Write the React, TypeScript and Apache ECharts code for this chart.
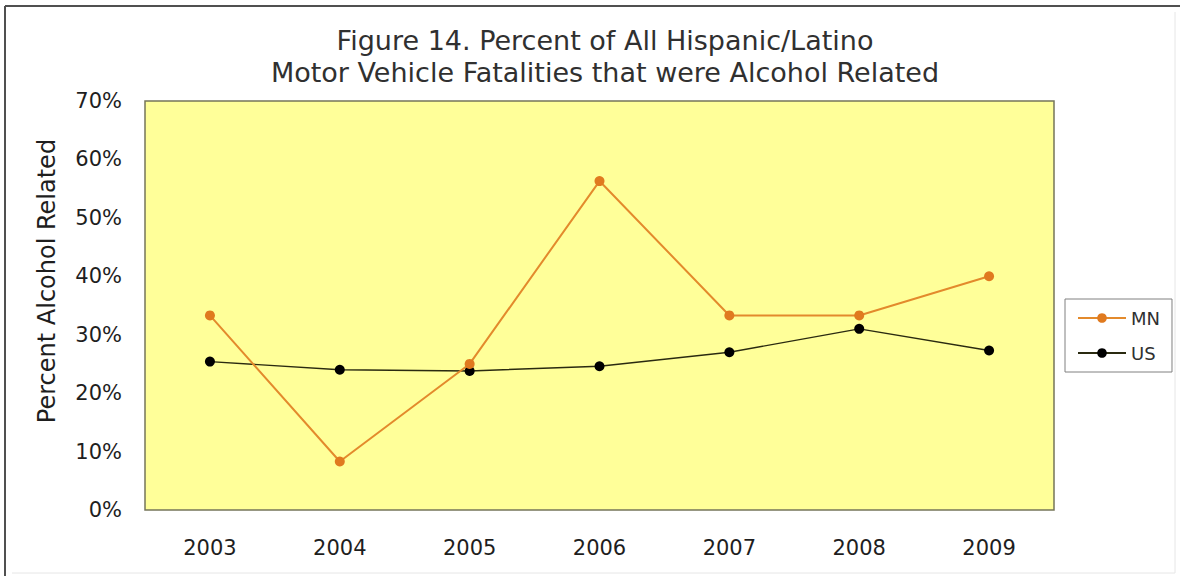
import React, { useEffect, useRef } from "react";
import * as echarts from "echarts";

const years = ["2003", "2004", "2005", "2006", "2007", "2008", "2009"];
const mnValues = [33.3, 8.3, 25.0, 56.3, 33.3, 33.3, 40.0];
const usValues = [25.4, 24.0, 23.8, 24.6, 27.0, 31.0, 27.3];
const titleLines = [
  "Figure 14. Percent of All Hispanic/Latino",
  "Motor Vehicle Fatalities that were Alcohol Related",
];
const yAxisTitle = "Percent Alcohol Related";

export default function App() {
  const ref = useRef<HTMLDivElement>(null);
  useEffect(() => {
    if (!ref.current) return;
    const chart = echarts.init(ref.current, null, { renderer: "svg" });
    const font = "'DejaVu Sans', 'Liberation Sans', Arial, sans-serif";
    chart.setOption({
      animation: false,
      backgroundColor: "#ffffff",
      textStyle: { fontFamily: font },
      title: {
        text: titleLines.join("\n"),
        left: 600,
        textAlign: "center",
        top: 19,
        textStyle: {
          fontFamily: font,
          fontSize: 27,
          fontWeight: "normal",
          color: "#303030",
          lineHeight: 32,
        },
      },
      grid: {
        left: 145,
        top: 101,
        width: 909,
        height: 409,
        show: true,
        backgroundColor: "#FFFF99",
        borderColor: "#76765a",
        borderWidth: 1.5,
      },
      legend: {
        orient: "vertical",
        left: 1065,
        top: 299,
        padding: [10, 12, 10, 12],
        itemGap: 17,
        itemWidth: 48,
        itemHeight: 12,
        borderColor: "#808080",
        borderWidth: 1,
        textStyle: { fontFamily: font, fontSize: 18, color: "#303030" },
        data: ["MN", "US"],
      },
      xAxis: {
        type: "category",
        data: years,
        boundaryGap: true,
        axisLine: { show: false },
        axisTick: { show: false },
        axisLabel: {
          fontFamily: font,
          fontSize: 21,
          color: "#1e1e1e",
          margin: 27,
        },
        splitLine: { show: false },
      },
      yAxis: {
        type: "value",
        min: 0,
        max: 70,
        interval: 10,
        axisLine: { show: false },
        axisTick: { show: false },
        splitLine: { show: false },
        axisLabel: {
          formatter: "{value}%",
          fontFamily: font,
          fontSize: 21,
          color: "#1e1e1e",
          margin: 23,
        },
      },
      graphic: [
        {
          type: "line",
          shape: { x1: 5, y1: 6, x2: 1180, y2: 6 },
          style: { stroke: "#505050", lineWidth: 2 },
        },
        {
          type: "line",
          shape: { x1: 5, y1: 6, x2: 5, y2: 576 },
          style: { stroke: "#505050", lineWidth: 2 },
        },
        {
          type: "line",
          shape: { x1: 1175, y1: 12, x2: 1175, y2: 573 },
          style: { stroke: "#e6e6e6", lineWidth: 1 },
        },
        {
          type: "line",
          shape: { x1: 12, y1: 573, x2: 1175, y2: 573 },
          style: { stroke: "#e6e6e6", lineWidth: 1 },
        },
        {
          type: "text",
          x: 47,
          y: 281,
          rotation: Math.PI / 2,
          style: {
            text: yAxisTitle,
            fontFamily: font,
            fontSize: 24,
            fill: "#1e1e1e",
            align: "center",
            verticalAlign: "middle",
          },
        },
      ],
      series: [
        {
          name: "MN",
          type: "line",
          data: mnValues,
          symbol: "circle",
          symbolSize: 10,
          lineStyle: { color: "#E38A2C", width: 2 },
          itemStyle: { color: "#E07A1F" },
          z: 3,
        },
        {
          name: "US",
          type: "line",
          data: usValues,
          symbol: "circle",
          symbolSize: 10,
          lineStyle: { color: "#2a2a10", width: 1.4 },
          itemStyle: { color: "#000000" },
          z: 2,
        },
      ],
    });
    return () => chart.dispose();
  }, []);
  return (
    <div
      ref={ref}
      style={{ position: "fixed", left: 0, top: 0, width: 1180, height: 576 }}
    />
  );
}
